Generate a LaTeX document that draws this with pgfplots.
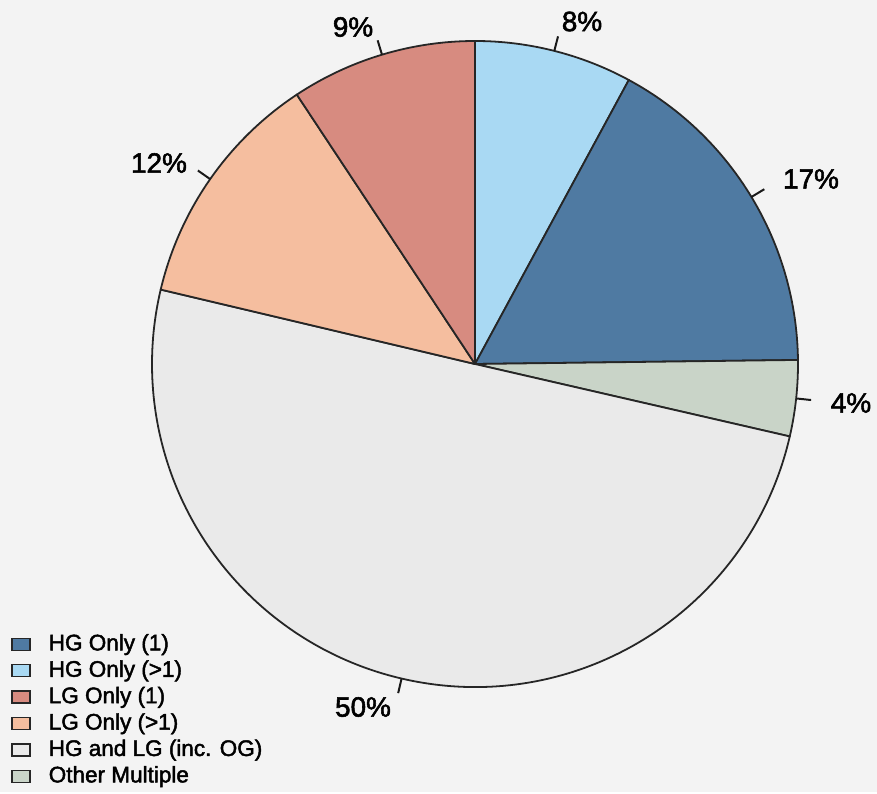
\documentclass[border=0pt]{standalone}
\usepackage{pgfplots}
\pgfplotsset{compat=1.18}
\usepackage{pgfplotstable}
\usepackage{fontspec}
\setmainfont{Liberation Sans}[FakeBold=2]

\definecolor{hgone}{HTML}{4F7AA2}
\definecolor{hgmulti}{HTML}{A9D9F3}
\definecolor{lgone}{HTML}{D78B80}
\definecolor{lgmulti}{HTML}{F5BE9F}
\definecolor{hglg}{HTML}{EAEAEA}
\definecolor{othermult}{HTML}{C9D4C8}
\definecolor{bgcol}{HTML}{F3F3F3}

% slices clockwise from 12 o'clock; lx, ly = label centre (picture px, from top)
\pgfplotstableread[col sep=comma]{
value,color,lx,ly
7.9,hgmulti,582,21.5
16.9,hgone,811,179
3.8,othermult,851,403
50.1,hglg,363,707
12.0,lgmulti,159,163
9.3,lgone,353,27
}\piedata

\xdef\pieacc{90}
\foreach \i in {0,...,5}{%
  \pgfplotstablegetelem{\i}{value}\of\piedata
  \let\v\pgfplotsretval
  \pgfplotstablegetelem{\i}{color}\of\piedata
  \let\c\pgfplotsretval
  \pgfplotstablegetelem{\i}{lx}\of\piedata
  \let\lx\pgfplotsretval
  \pgfplotstablegetelem{\i}{ly}\of\piedata
  \pgfmathsetmacro\ly{792-\pgfplotsretval}
  \pgfmathsetmacro\e{\pieacc-3.6*\v}
  \pgfmathsetmacro\m{(\pieacc+\e)/2}
  \pgfmathtruncatemacro\r{round(\v)}
  \expandafter\xdef\csname pieS\i\endcsname{\pieacc}
  \expandafter\xdef\csname pieE\i\endcsname{\e}
  \expandafter\xdef\csname pieM\i\endcsname{\m}
  \expandafter\xdef\csname pieR\i\endcsname{\r}
  \expandafter\xdef\csname pieC\i\endcsname{\c}
  \expandafter\xdef\csname pieX\i\endcsname{\lx}
  \expandafter\xdef\csname pieY\i\endcsname{\ly}
  \xdef\pieacc{\e}
}

\newcommand\pielabelfont{\fontsize{14}{16}\selectfont}

\begin{document}
\begin{tikzpicture}
\begin{axis}[
  x=0.5bp, y=0.5bp,
  xmin=0, xmax=877, ymin=0, ymax=792,
  hide axis, clip=false, enlargelimits=false,
  legend image code/.code={\draw[#1, draw=black!85, line width=0.7pt] (0bp,-3bp) rectangle (9bp,3bp);},
  legend cell align=left,
  legend style={at={(axis cs:5,165)}, anchor=north west, draw=none, fill=none,
    font=\fontsize{11.3}{13}\selectfont,
    nodes={inner sep=1bp, text height=8.5bp, text depth=2.5bp},
    row sep=0.2bp,
    /tikz/every odd column/.append style={column sep=8bp}},
]
\fill[bgcol] (axis cs:0,0) rectangle (axis cs:877,792);
\pgfplotsinvokeforeach{0,...,5}{%
  \edef\temp{\noexpand\fill[fill=\csname pieC#1\endcsname, draw=black!85, line width=0.9pt, line join=round]
    (axis cs:475,428) -- ++(\csname pieS#1\endcsname:161.5bp)
    arc[start angle=\csname pieS#1\endcsname, end angle=\csname pieE#1\endcsname, radius=161.5bp] -- cycle;}\temp
}
\pgfplotsinvokeforeach{0,...,5}{%
  \edef\temp{\noexpand\draw[line width=1pt, black!90]
    (axis cs:475,428) ++(\csname pieM#1\endcsname:161.5bp) -- ++(\csname pieM#1\endcsname:7.5bp);
    \noexpand\node[anchor=center, inner sep=0pt, font=\noexpand\pielabelfont, text=black]
    at (axis cs:\csname pieX#1\endcsname,\csname pieY#1\endcsname)
    {\csname pieR#1\endcsname\noexpand\%};}\temp
}
\addlegendimage{fill=hgone}\addlegendentry{HG Only (1)}
\addlegendimage{fill=hgmulti}\addlegendentry{HG Only (>1)}
\addlegendimage{fill=lgone}\addlegendentry{LG Only (1)}
\addlegendimage{fill=lgmulti}\addlegendentry{LG Only (>1)}
\addlegendimage{fill=hglg}\addlegendentry{HG and LG (inc. OG)}
\addlegendimage{fill=othermult}\addlegendentry{Other Multiple}
\end{axis}
\end{tikzpicture}
\end{document}
